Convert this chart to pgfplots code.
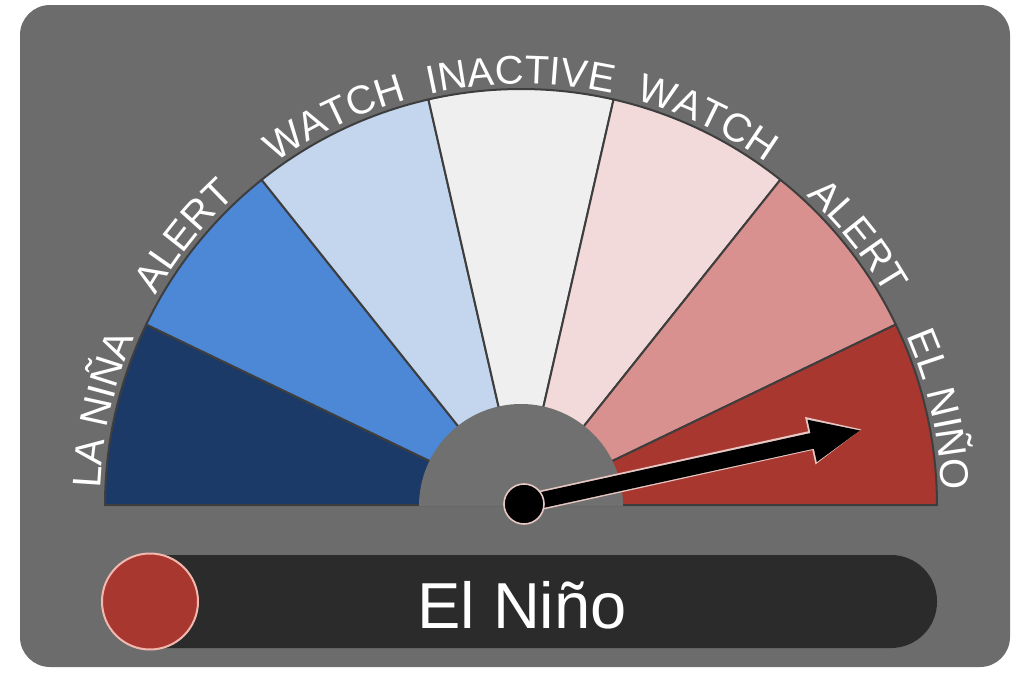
\documentclass[border=0pt]{standalone}
\usepackage{pgfplots}
\pgfplotsset{compat=1.18}
\usepackage{fontspec}
\setmainfont{Liberation Sans}
\usetikzlibrary{decorations.text, arrows.meta}

\definecolor{bgpanel}{HTML}{6C6C6C}
\definecolor{hubgray}{HTML}{707070}
\definecolor{segline}{HTML}{3E3E3E}
\definecolor{cA}{HTML}{1B3A68}
\definecolor{cB}{HTML}{4C88D6}
\definecolor{cC}{HTML}{C3D6EE}
\definecolor{cD}{HTML}{EFEFEF}
\definecolor{cE}{HTML}{F2DADA}
\definecolor{cF}{HTML}{D9918F}
\definecolor{cG}{HTML}{A8372F}
\definecolor{barbg}{HTML}{2B2B2B}
\definecolor{ringpink}{HTML}{F2B8B0}
\definecolor{needleedge}{HTML}{E8C8C4}

\newcommand{\lblfont}{\fontsize{20}{24}\selectfont}
% wedge: start angle, end angle, colour
\newcommand{\seg}[3]{%
  \fill[#3, draw=segline, line width=1pt, line join=round]
    (axis cs:521,166) -- ++(#1:208pt) arc[start angle=#1, end angle=#2, radius=208pt] -- cycle;}
% label along the arc: mid angle, text
\newcommand{\lbl}[2]{%
  \path[decorate, decoration={text along path, text={|\lblfont|#2}, text align=center, text color=white}]
    (axis cs:521,166) ++(#1+40:210.5pt) arc[start angle=#1+40, end angle=#1-40, radius=210.5pt];}

\begin{document}
\begin{tikzpicture}
\begin{axis}[x=0.5pt, y=0.5pt, xmin=0, xmax=1014, ymin=0, ymax=671,
  hide axis, clip=false, scale only axis]
\path (axis cs:0,0) rectangle (axis cs:1014,671);
\fill[bgpanel, rounded corners=15pt] (axis cs:20,4) rectangle (axis cs:1010,666);
% gauge sectors (7 equal parts)
\seg{180}{154.2857}{cA}
\seg{154.2857}{128.5714}{cB}
\seg{128.5714}{102.8571}{cC}
\seg{102.8571}{77.1429}{cD}
\seg{77.1429}{51.4286}{cE}
\seg{51.4286}{25.7143}{cF}
\seg{25.7143}{0}{cG}
% hub (upper half only)
\fill[hubgray] (axis cs:521,165) ++(0:51pt) arc[start angle=0, end angle=180, radius=51pt] -- cycle;
% labels
\lbl{167.1429}{LA NIÑA}
\lbl{141.4286}{ALERT}
\lbl{115.7143}{WATCH}
\lbl{90}{INACTIVE}
\lbl{64.2857}{WATCH}
\lbl{38.5714}{ALERT}
\lbl{12.8571}{EL NIÑO}
% status bar
\fill[barbg, rounded corners=23pt] (axis cs:110,23) rectangle (axis cs:937,116);
\addplot[only marks, mark=*, mark size=24pt, mark options={fill=cG, draw=ringpink, line width=1pt}]
  coordinates {(150,69.5)};
\node[anchor=base, text=white, font=\fontsize{32.5}{38}\selectfont] at (axis cs:522,43) {El Niño};
% needle
\addplot[draw=needleedge, line width=9.6pt, -{Triangle[length=27pt, width=22pt]}]
  coordinates {(524,167) (863,242)};
\addplot[draw=black, line width=8pt, -{Triangle[length=25.5pt, width=19.5pt]}]
  coordinates {(524,167) (862,241)};
\addplot[only marks, mark=*, mark size=10pt, mark options={fill=black, draw=needleedge, line width=0.8pt}]
  coordinates {(524,167)};
\end{axis}
\end{tikzpicture}
\end{document}
